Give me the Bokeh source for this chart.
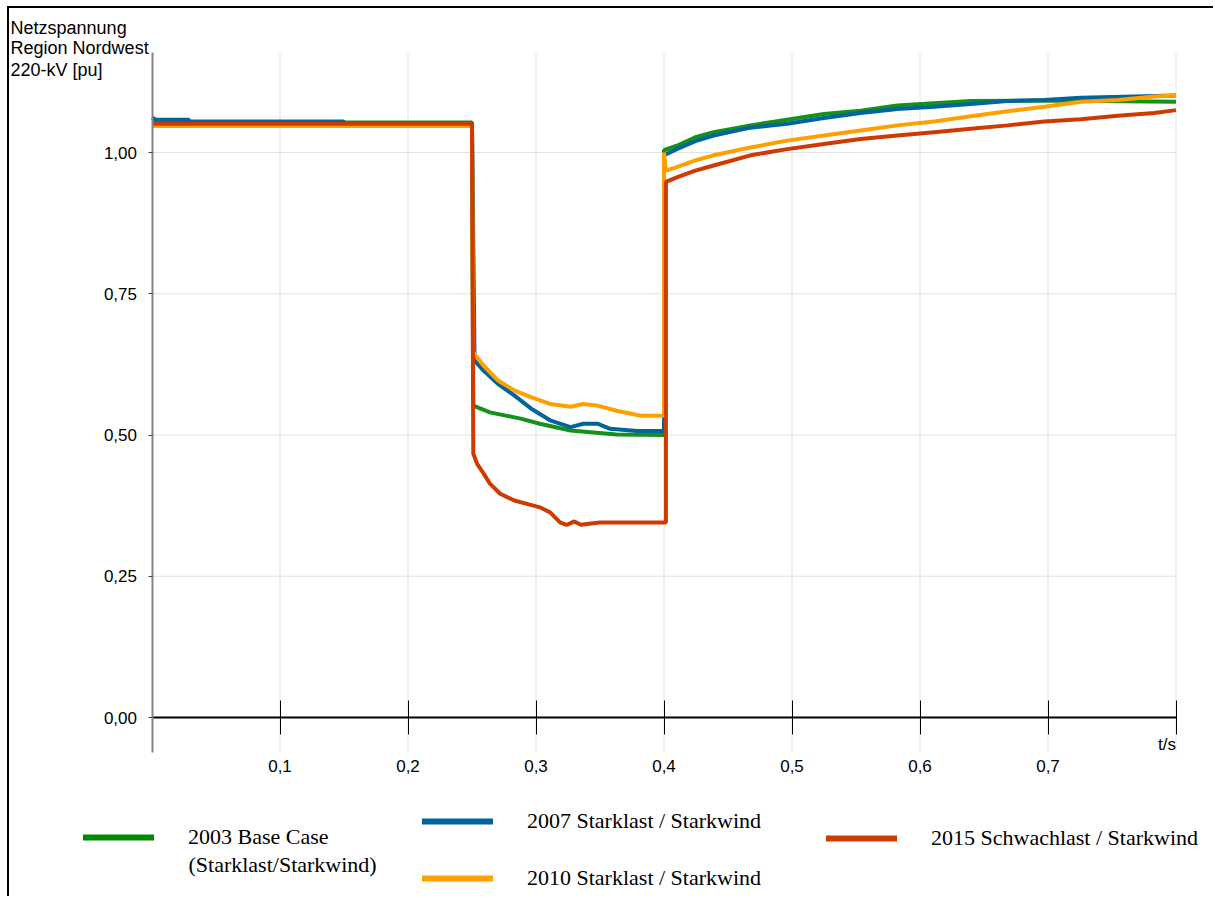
from bokeh.plotting import figure
from bokeh.models import (Range1d, LinearAxis, FixedTicker, CustomJSTickFormatter,
                          Label, Legend, LegendItem)
from bokeh.embed import file_html
from bokeh.resources import INLINE

# ---------------- data ----------------
t_2003 = [0, 0.25, 0.251, 0.264, 0.288, 0.303, 0.327, 0.363, 0.4, 0.4, 0.41, 0.4245, 0.4388,
          0.4676, 0.4962, 0.5249, 0.5536, 0.5823, 0.611, 0.6397, 0.697, 0.8]
v_2003 = [1.053, 1.053, 0.552, 0.540, 0.529, 0.520, 0.508, 0.501, 0.500, 1.004, 1.012, 1.027, 1.036,
          1.048, 1.058, 1.068, 1.074, 1.083, 1.087, 1.091, 1.092, 1.090]

t_2007 = [0, 0.003, 0.029, 0.029, 0.150, 0.150, 0.25, 0.252, 0.259, 0.270, 0.283, 0.296, 0.311,
          0.327, 0.337, 0.348, 0.358, 0.379, 0.4, 0.4, 0.41, 0.4245, 0.4388, 0.4676, 0.4962,
          0.5249, 0.5536, 0.5823, 0.611, 0.6397, 0.6684, 0.697, 0.7258, 0.8]
v_2007 = [1.062, 1.058, 1.058, 1.055, 1.055, 1.051, 1.051, 0.632, 0.614, 0.591, 0.570, 0.547, 0.526,
          0.514, 0.520, 0.520, 0.511, 0.507, 0.507, 0.995, 1.006, 1.020, 1.030, 1.044, 1.051,
          1.061, 1.070, 1.077, 1.081, 1.086, 1.091, 1.093, 1.097, 1.101]

t_2010 = [0, 0.25, 0.251, 0.259, 0.270, 0.283, 0.296, 0.311, 0.327, 0.337, 0.348, 0.363, 0.382,
          0.4, 0.4, 0.4015, 0.41, 0.4245, 0.4388, 0.4676, 0.4962, 0.5249, 0.5536, 0.5823, 0.611,
          0.6397, 0.6684, 0.697, 0.7258, 0.7545, 0.7831, 0.8]
v_2010 = [1.047, 1.047, 0.646, 0.623, 0.597, 0.579, 0.567, 0.555, 0.550, 0.555, 0.552, 0.543, 0.534,
          0.534, 1.000, 0.968, 0.974, 0.986, 0.995, 1.009, 1.021, 1.030, 1.039, 1.048, 1.055,
          1.064, 1.073, 1.081, 1.090, 1.093, 1.099, 1.101]

t_2015 = [0, 0.25, 0.251, 0.254, 0.259, 0.264, 0.272, 0.283, 0.293, 0.303, 0.311, 0.319, 0.324,
          0.330, 0.335, 0.350, 0.4015, 0.4015, 0.41, 0.4245, 0.4388, 0.4676, 0.4962, 0.5249,
          0.5536, 0.5823, 0.611, 0.6397, 0.6684, 0.697, 0.7258, 0.7545, 0.7831, 0.8]
v_2015 = [1.051, 1.051, 0.467, 0.449, 0.432, 0.414, 0.396, 0.384, 0.378, 0.372, 0.363, 0.345, 0.341,
          0.347, 0.341, 0.345, 0.345, 0.948, 0.956, 0.968, 0.977, 0.995, 1.006, 1.015,
          1.024, 1.030, 1.036, 1.042, 1.048, 1.055, 1.059, 1.065, 1.070, 1.075]

y_ticks = [0, 0.25, 0.5, 0.75, 1.0]
x_ticks_labels = [0.1, 0.2, 0.3, 0.4, 0.5, 0.6, 0.7]
x_ticks_all = [0, 0.1, 0.2, 0.3, 0.4, 0.5, 0.6, 0.7, 0.8]
x_min, x_max = 0.0, 0.8
y_min, y_max = -0.062, 1.177

title_lines = ["Netzspannung", "Region Nordwest", "220-kV [pu]"]
series_labels = ["2003 Base Case", "2007 Starklast / Starkwind",
                 "2010 Starklast / Starkwind", "2015 Schwachlast / Starkwind"]
label_2003_line2 = "(Starklast/Starkwind)"
colors = ["#13911a", "#00659c", "#ff9f00", "#cf3a00"]
legend_colors = ["#008a00", "#00659c", "#ff9f00", "#cf3a00"]

# ---------------- figure ----------------
W, H = 1206, 890
PX_PER_X = 1280.0   # pixels per unit of t
PX_PER_Y = 565.0    # pixels per unit of voltage
X0_PX, Y0_PX = 151.5 - 9, 717 - 8   # position of (0, 0) inside the canvas
xr = Range1d(-X0_PX / PX_PER_X, (W - X0_PX) / PX_PER_X)
yr = Range1d(-(H - Y0_PX) / PX_PER_Y, Y0_PX / PX_PER_Y)

p = figure(width=W, height=H, output_backend="svg", toolbar_location=None,
           x_range=xr, y_range=yr, x_axis_type=None, y_axis_type=None, min_border=0)
p.outline_line_color = None
p.background_fill_color = "white"
p.border_fill_color = "white"
p.styles = {"margin-left": "7px", "margin-top": "6px",
            "border-left": "2px solid black", "border-top": "2px solid black"}

SANS = "Liberation Sans"
SERIF = "Liberation Serif"

# grid lines
gx = x_ticks_all[1:]
p.segment(x0=gx, y0=[y_min] * len(gx), x1=gx, y1=[y_max] * len(gx),
          line_color="#e2e2e2", line_width=1)
gy = y_ticks[1:]
p.segment(x0=[x_min] * len(gy), y0=gy, x1=[x_max] * len(gy), y1=gy,
          line_color="#e2e2e2", line_width=1)

# y axis
yaxis = LinearAxis(fixed_location=0, bounds=(y_min, y_max),
                   ticker=FixedTicker(ticks=y_ticks),
                   formatter=CustomJSTickFormatter(code="return tick.toFixed(2).replace('.', ',')"),
                   axis_line_color="#858585", axis_line_width=2,
                   major_tick_in=0, major_tick_out=4, major_tick_line_color="#404040",
                   minor_tick_line_color=None, major_label_standoff=11,
                   major_label_text_font=SANS, major_label_text_font_size="17px",
                   major_label_text_color="black")
p.add_layout(yaxis, "left")

# x axis labels (below the plotting area)
xaxis = LinearAxis(fixed_location=y_min, ticker=FixedTicker(ticks=x_ticks_labels),
                   formatter=CustomJSTickFormatter(code="return tick.toFixed(1).replace('.', ',')"),
                   axis_line_color=None, major_tick_line_color=None, minor_tick_line_color=None,
                   major_tick_in=0, major_tick_out=0, major_label_standoff=7,
                   major_label_text_font=SANS, major_label_text_font_size="17px",
                   major_label_text_color="black")
p.add_layout(xaxis, "below")

# x axis line at zero
x0axis = LinearAxis(fixed_location=0, bounds=(x_min, x_max), ticker=FixedTicker(ticks=x_ticks_all),
                    formatter=CustomJSTickFormatter(code="return ''"),
                    axis_line_color="black", axis_line_width=2,
                    major_tick_in=17, major_tick_out=17, major_tick_line_color="black",
                    major_tick_line_width=1, minor_tick_line_color=None)
p.add_layout(x0axis, "below")

# lines
ts = [t_2003, t_2007, t_2010, t_2015]
vs = [v_2003, v_2007, v_2010, v_2015]
for t, v, c in zip(ts, vs, colors):
    p.line(t, v, line_color=c, line_width=4)

# legend sample renderers (a single NaN point, draws nothing in the plot)
nan = float("nan")
leg_r = [p.line([nan], [nan], line_color=c, line_width=6, line_cap="round") for c in legend_colors]

leg_pos = [(74, 48), (413, 64), (413, 7), (817, 47)]
for r, lab, pos in zip(leg_r, series_labels, leg_pos):
    leg = Legend(items=[LegendItem(label=lab, renderers=[r])], location=pos,
                 orientation="vertical", glyph_width=71, glyph_height=20, label_height=20,
                 label_standoff=34, padding=0, margin=0, spacing=0,
                 border_line_color=None, background_fill_alpha=0,
                 label_text_font=SERIF, label_text_font_size="22px", label_text_color="black")
    p.add_layout(leg, "center")

p.add_layout(Label(x=0.0285, y=-0.260, text=label_2003_line2, text_baseline="middle",
                   text_font=SERIF, text_font_size="22px", text_color="black"))

# title
for txt, yv in zip(title_lines, [1.2212, 1.1841, 1.1469]):
    p.add_layout(Label(x=-0.1105, y=yv, text=txt, text_baseline="alphabetic",
                       text_font=SANS, text_font_size="18px", text_color="black"))

# axis unit
p.add_layout(Label(x=0.8, y=0, text="t/s", text_align="right", text_baseline="top",
                   y_offset=-17, text_font=SANS, text_font_size="17px", text_color="black"))

open("out.html", "w").write(file_html(p, INLINE))
